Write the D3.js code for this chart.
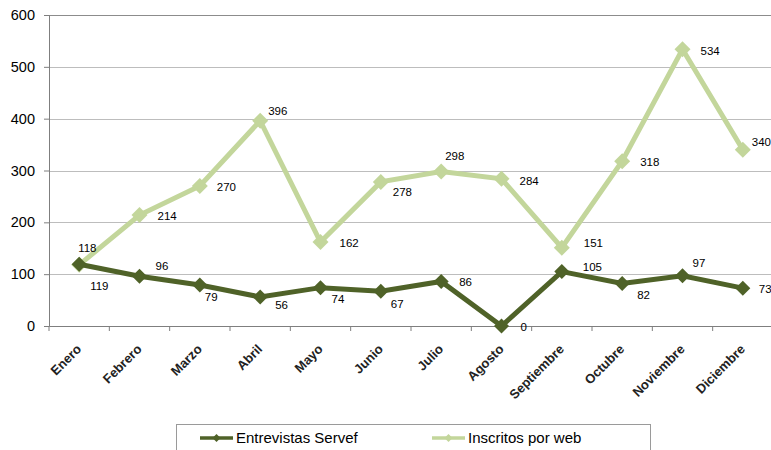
<!DOCTYPE html>
<html><head><meta charset="utf-8">
<script src="https://cdn.jsdelivr.net/npm/d3@7"></script>
<style>
html,body{margin:0;padding:0;background:#fff;}
svg{display:block;font-family:"Liberation Sans",Arial,sans-serif;}
</style></head>
<body><svg id="c" width="771" height="450"></svg>
<script>
const months = ["Enero","Febrero","Marzo","Abril","Mayo","Junio","Julio","Agosto","Septiembre","Octubre","Noviembre","Diciembre"];
const entrevistas = [119,96,79,56,74,67,86,0,105,82,97,73];
const inscritos = [118,214,270,396,162,278,298,284,151,318,534,340];
const yTicks = [0,100,200,300,400,500,600];
const seriesNames = ["Entrevistas Servef","Inscritos por web"];
// label offsets (dx, dy) relative to each point
const entrevistasLabelOffsets = [[11,22],[16,-10],[5,12],[15,8],[11,11],[10,13],[18,1],[19,1],[21,-5],[15,11],[10,-13],[16,1]];
const inscritosLabelOffsets = [[-1,-17],[18,1],[17,1],[8,-10],[19,1],[12,10],[4,-16],[18,2],[22,-5],[18,1],[18,2],[9,-8]];

(function(){
const svg = d3.select("#c");
const pLeft = 49, pRight = 773, pTop = 15, pBottom = 326;
const x = d3.scaleBand().domain(months).range([pLeft, pRight]);
const y = d3.scaleLinear().domain([0,600]).range([pBottom, pTop]);
const cx = m => x(m) + x.bandwidth()/2;

// gridlines
svg.append("g").selectAll("line").data(yTicks.filter(t=>t>0)).join("line")
  .attr("x1", pLeft).attr("x2", pRight)
  .attr("y1", d=>Math.round(y(d))+0.5).attr("y2", d=>Math.round(y(d))+0.5)
  .attr("stroke", d=> d===600 ? "#8c8c8c" : "#bdbdbd").attr("stroke-width", 1);

// y axis
const yAx = svg.append("g").attr("transform", `translate(${pLeft},0)`)
  .call(d3.axisLeft(y).tickValues(yTicks).tickSize(5).tickPadding(9));
yAx.select(".domain").attr("stroke","#7f7f7f");
yAx.selectAll(".tick line").attr("stroke","#7f7f7f");
yAx.selectAll("text").attr("font-size","14.5px").attr("fill","#000").attr("font-family","Liberation Sans, Arial, sans-serif");

// x axis
const xAx = svg.append("g").attr("transform", `translate(0,${pBottom})`)
  .call(d3.axisBottom(x).tickSize(0).tickFormat(""));
xAx.select(".domain").attr("stroke","#7f7f7f");
// boundary ticks
svg.append("g").selectAll("line").data(months.concat(["_end"])).join("line")
  .attr("x1", (d,i)=> pLeft + i*x.bandwidth()).attr("x2", (d,i)=> pLeft + i*x.bandwidth())
  .attr("y1", pBottom).attr("y2", pBottom+5).attr("stroke","#7f7f7f");
// labels
svg.append("g").selectAll("text").data(months).join("text")
  .attr("transform", d=>`translate(${cx(d)+3},${pBottom+24}) rotate(-45)`)
  .attr("text-anchor","end").attr("font-size","13px").attr("font-weight","bold")
  .attr("fill","#222").text(d=>d);

const line = d3.line().x((d,i)=>cx(months[i])).y(d=>y(d));
const diamond = s => `M0,${-s}L${s},0L0,${s}L${-s},0Z`;

function drawSeries(vals, color, size) {
  svg.append("path").datum(vals).attr("d", line)
    .attr("fill","none").attr("stroke",color).attr("stroke-width",5).attr("stroke-linejoin","miter");
  svg.append("g").selectAll("path").data(vals).join("path")
    .attr("transform",(d,i)=>`translate(${cx(months[i])},${y(d)})`)
    .attr("d", diamond(size)).attr("fill", color);
}
drawSeries(inscritos, "#c3d69b", 8);
drawSeries(entrevistas, "#4f6228", 7.5);

function drawLabels(vals, offsets) {
  svg.append("g").selectAll("text").data(vals).join("text")
    .attr("x",(d,i)=>cx(months[i]) + offsets[i][0])
    .attr("y",(d,i)=>y(d) + offsets[i][1])
    .attr("dy","0.35em").attr("font-size","11.5px").attr("fill","#000").text(d=>d);
}
drawLabels(inscritos, inscritosLabelOffsets);
drawLabels(entrevistas, entrevistasLabelOffsets);

// legend
const lg = svg.append("g");
lg.append("rect").attr("x",176.5).attr("y",424.5).attr("width",474).attr("height",40)
  .attr("fill","#fff").attr("stroke","#9a9a9a");
const legendItems = [{name:seriesNames[0], color:"#4f6228", x0:200},{name:seriesNames[1], color:"#c3d69b", x0:432}];
legendItems.forEach(it=>{
  lg.append("line").attr("x1",it.x0).attr("x2",it.x0+33).attr("y1",438).attr("y2",438)
    .attr("stroke",it.color).attr("stroke-width",3.5);
  lg.append("path").attr("transform",`translate(${it.x0+16.5},438)`).attr("d",diamond(4)).attr("fill",it.color);
  lg.append("text").attr("x",it.x0+36).attr("y",438).attr("dy","0.35em")
    .attr("font-size","15px").attr("fill","#000").text(it.name);
});
})();
</script></body></html>
